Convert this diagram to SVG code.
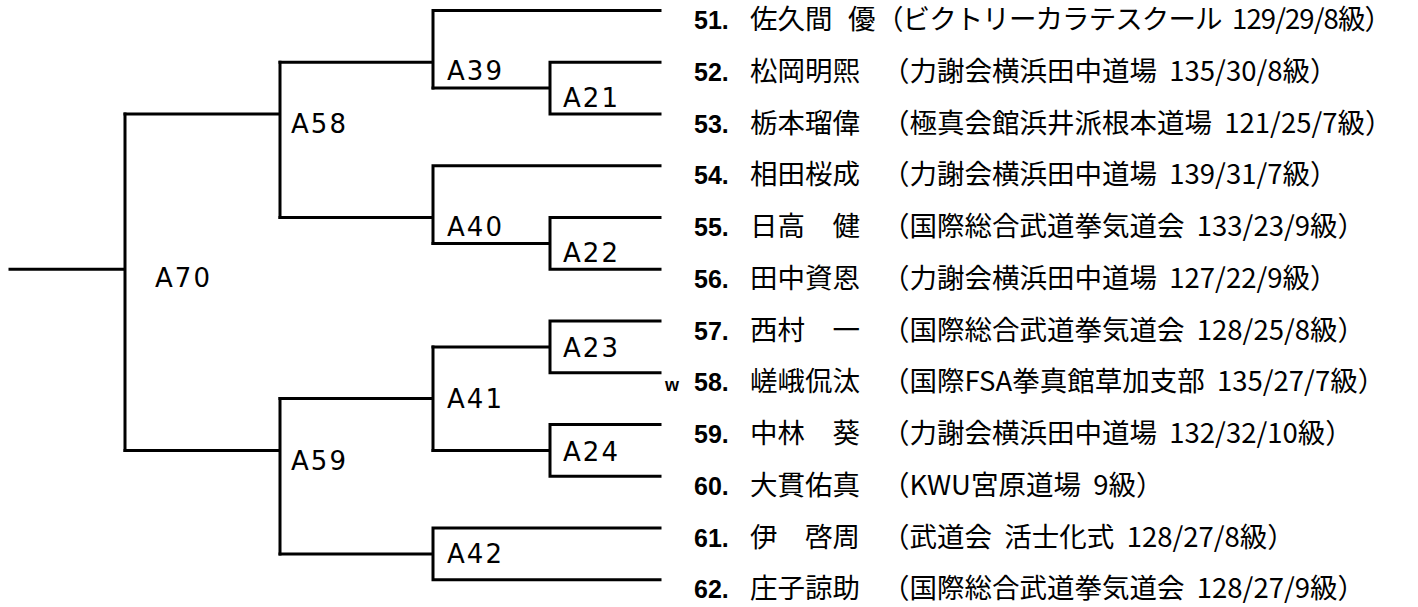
<svg xmlns="http://www.w3.org/2000/svg" width="1418" height="607" viewBox="0 0 1418 607">
<style>
.ln{fill:none;stroke:#000;stroke-width:3;stroke-linecap:square;stroke-linejoin:miter}
.lbl{font-family:"DejaVu Sans","Liberation Sans",sans-serif;font-size:26px;fill:#000}
.num{font-family:"Liberation Sans",Arial,sans-serif;font-size:25px;font-weight:bold;fill:#000}
.nm{font-family:"Noto Sans CJK JP",sans-serif;font-size:27.5px;fill:#000}
.org{font-family:"Noto Sans CJK JP",sans-serif;font-size:27.5px;fill:#000;white-space:pre}
.w{font-family:"Liberation Sans",Arial,sans-serif;font-size:18px;font-weight:bold;fill:#000}
</style>
<rect width="1418" height="607" fill="#fff"/>
<g id="connectors">
<path class="ln" d="M10 269.25H125M125 114V450.4"/>
<path class="ln" d="M125 114H280M280 62.25V217.5"/>
<path class="ln" d="M280 62.25H433M433 10.5V88.1M433 10.5H660"/>
<path class="ln" d="M433 88.1H550M660 62.25H550V114H660"/>
<path class="ln" d="M280 217.5H433M433 165.75V243.4M433 165.75H660"/>
<path class="ln" d="M433 243.4H550M660 217.5H550V269.25H660"/>
<path class="ln" d="M125 450.4H280M280 398.6V553.9"/>
<path class="ln" d="M280 398.6H433M433 346.9V450.4"/>
<path class="ln" d="M433 346.9H550M660 321H550V372.75H660"/>
<path class="ln" d="M433 450.4H550M660 424.5H550V476.25H660"/>
<path class="ln" d="M280 553.9H433M660 528H433V579.75H660"/>
</g>
<g id="A70"><text class="lbl" x="155" y="287" textLength="55">A70</text></g>
<g id="A58"><text class="lbl" x="291" y="133" textLength="55">A58</text></g>
<g id="A59"><text class="lbl" x="291" y="470" textLength="55">A59</text></g>
<g id="A39"><text class="lbl" x="447" y="80" textLength="55">A39</text></g>
<g id="A40"><text class="lbl" x="447" y="236" textLength="55">A40</text></g>
<g id="A41"><text class="lbl" x="447" y="408" textLength="55">A41</text></g>
<g id="A42"><text class="lbl" x="447" y="563" textLength="55">A42</text></g>
<g id="A21"><text class="lbl" x="563" y="107" textLength="55">A21</text></g>
<g id="A22"><text class="lbl" x="563" y="262" textLength="55">A22</text></g>
<g id="A23"><text class="lbl" x="563" y="357" textLength="55">A23</text></g>
<g id="A24"><text class="lbl" x="563" y="461" textLength="55">A24</text></g>
<g id="p51"><text class="num" x="694" y="29">51.</text><text class="nm" x="750" y="29">佐久間</text><text class="nm" x="848" y="29">優</text><text class="org" x="876" y="29" textLength="516">（ビクトリーカラテスクール  129/29/8級）</text></g>
<g id="p52"><text class="num" x="694" y="80.75">52.</text><text class="nm" x="750" y="80.75">松岡明煕</text><text class="org" x="882" y="80.75">（力謝会横浜田中道場  135/30/8級）</text></g>
<g id="p53"><text class="num" x="694" y="132.5">53.</text><text class="nm" x="750" y="132.5">栃本瑠偉</text><text class="org" x="882" y="132.5">（極真会館浜井派根本道場  121/25/7級）</text></g>
<g id="p54"><text class="num" x="694" y="184.25">54.</text><text class="nm" x="750" y="184.25">相田桜成</text><text class="org" x="882" y="184.25">（力謝会横浜田中道場  139/31/7級）</text></g>
<g id="p55"><text class="num" x="694" y="236">55.</text><text class="nm" x="750" y="236">日高　健</text><text class="org" x="882" y="236">（国際総合武道拳気道会  133/23/9級）</text></g>
<g id="p56"><text class="num" x="694" y="287.75">56.</text><text class="nm" x="750" y="287.75">田中資恩</text><text class="org" x="882" y="287.75">（力謝会横浜田中道場  127/22/9級）</text></g>
<g id="p57"><text class="num" x="694" y="339.5">57.</text><text class="nm" x="750" y="339.5">西村　一</text><text class="org" x="882" y="339.5">（国際総合武道拳気道会  128/25/8級）</text></g>
<g id="p58"><text class="w" x="665" y="391.25">w</text><text class="num" x="694" y="391.25">58.</text><text class="nm" x="750" y="391.25">嵯峨侃汰</text><text class="org" x="882" y="391.25">（国際FSA拳真館草加支部  135/27/7級）</text></g>
<g id="p59"><text class="num" x="694" y="443">59.</text><text class="nm" x="750" y="443">中林　葵</text><text class="org" x="882" y="443">（力謝会横浜田中道場  132/32/10級）</text></g>
<g id="p60"><text class="num" x="694" y="494.75">60.</text><text class="nm" x="750" y="494.75">大貫佑真</text><text class="org" x="882" y="494.75">（KWU宮原道場  9級）</text></g>
<g id="p61"><text class="num" x="694" y="546.5">61.</text><text class="nm" x="750" y="546.5">伊　啓周</text><text class="org" x="882" y="546.5">（武道会  活士化式  128/27/8級）</text></g>
<g id="p62"><text class="num" x="694" y="598.25">62.</text><text class="nm" x="750" y="598.25">庄子諒助</text><text class="org" x="882" y="598.25">（国際総合武道拳気道会  128/27/9級）</text></g>
</svg>
